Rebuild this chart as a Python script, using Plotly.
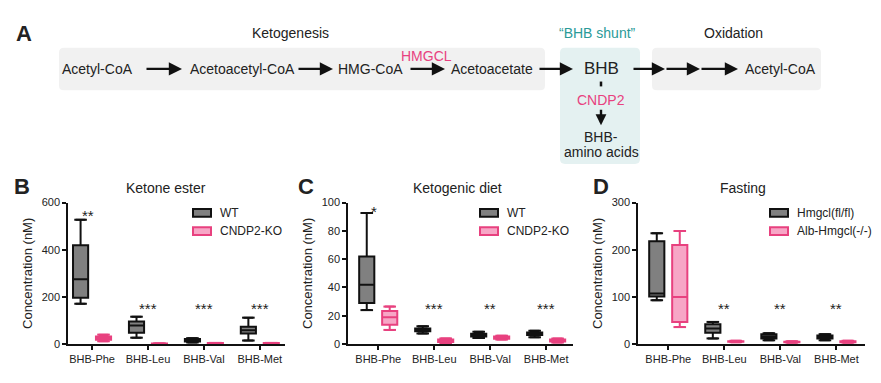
import plotly.graph_objects as go

W, H = 881, 383
FONT = "Liberation Sans, Arial, sans-serif"

cats = ["BHB-Phe", "BHB-Leu", "BHB-Val", "BHB-Met"]

# Panel B - Ketone ester
b_wt_low = [171, 27, 7, 15]
b_wt_q1 = [196, 48, 11, 45]
b_wt_med = [275, 79, 16, 59]
b_wt_q3 = [419, 96, 22, 73]
b_wt_up = [527, 116, 25, 112]
b_ko_low = [12, 0.5, 1, 1]
b_ko_q1 = [18, 1, 2, 2]
b_ko_med = [25, 1.5, 3, 3]
b_ko_q3 = [32, 2, 4, 4]
b_ko_up = [40, 3, 5, 5]
b_stars = ["**", "***", "***", "***"]
b_star_y = [547, 152, 152, 152]

# Panel C - Ketogenic diet
c_wt_low = [24, 7.5, 4.3, 4.8]
c_wt_q1 = [29, 9.1, 5.3, 6.4]
c_wt_med = [42, 10.3, 6.2, 7.3]
c_wt_q3 = [62, 11, 7.3, 8.2]
c_wt_up = [92.7, 12.6, 8.7, 9.4]
c_ko_low = [10, 0.7, 3.2, 1.1]
c_ko_q1 = [13.7, 1.4, 3.7, 1.8]
c_ko_med = [19, 2.3, 4.6, 2.3]
c_ko_q3 = [23.3, 3.2, 5.3, 3.2]
c_ko_up = [26.5, 4, 5.9, 3.9]
c_stars = ["*", "***", "**", "***"]
c_star_y = [94, 25, 25, 25]

# Panel D - Fasting
d_wt_low = [93, 12, 8, 8]
d_wt_q1 = [101, 24, 12, 12]
d_wt_med = [107, 33, 16, 15]
d_wt_q3 = [218, 42, 21, 18]
d_wt_up = [235, 47, 23, 21]
d_ko_low = [36, 4, 3, 3]
d_ko_q1 = [47, 5, 4, 4]
d_ko_med = [100, 5.5, 4.5, 5]
d_ko_q3 = [210, 6, 5, 6]
d_ko_up = [240, 7, 6, 7]
d_stars = ["", "**", "**", "**"]
d_star_y = [0, 76, 76, 76]

WT_FILL, WT_LINE = "#808080", "#111111"
KO_FILL, KO_LINE = "#f7a6c6", "#e8417f"
PINK = "#e8417f"
TEAL = "#2a9a98"


def px(x):
    return x / W


def py(y):
    return 1 - y / H


fig = go.Figure()

panels = [
    dict(ax="", names=("WT", "CNDP2-KO"), leg_x=193,
         wt=(b_wt_low, b_wt_q1, b_wt_med, b_wt_q3, b_wt_up),
         ko=(b_ko_low, b_ko_q1, b_ko_med, b_ko_q3, b_ko_up),
         stars=b_stars, star_y=b_star_y),
    dict(ax="2", names=("WT", "CNDP2-KO"), leg_x=480,
         wt=(c_wt_low, c_wt_q1, c_wt_med, c_wt_q3, c_wt_up),
         ko=(c_ko_low, c_ko_q1, c_ko_med, c_ko_q3, c_ko_up),
         stars=c_stars, star_y=c_star_y),
    dict(ax="3", names=("Hmgcl(fl/fl)", "Alb-Hmgcl(-/-)"), leg_x=770,
         wt=(d_wt_low, d_wt_q1, d_wt_med, d_wt_q3, d_wt_up),
         ko=(d_ko_low, d_ko_q1, d_ko_med, d_ko_q3, d_ko_up),
         stars=d_stars, star_y=d_star_y),
]

for p in panels:
    xa, ya = "x" + p["ax"], "y" + p["ax"]
    for k, (key, name, fill, line, grp) in enumerate(
            [("wt", p["names"][0], WT_FILL, WT_LINE, "wt"),
             ("ko", p["names"][1], KO_FILL, KO_LINE, "ko")]):
        low, q1, med, q3, up = p[key]
        fig.add_trace(go.Box(
            x=cats, q1=q1, median=med, q3=q3, lowerfence=low, upperfence=up,
            name=name, fillcolor=fill, line=dict(color=line, width=2),
            whiskerwidth=0.65, boxpoints=False, offsetgroup=grp,
            xaxis=xa, yaxis=ya, showlegend=False, hoverinfo="skip"))
        # whisker caps
        fig.add_trace(go.Scatter(
            x=cats + cats, y=list(low) + list(up), mode="markers",
            marker=dict(symbol="line-ew", size=9, line=dict(color=line, width=2)),
            offsetgroup=grp, xaxis=xa, yaxis=ya, showlegend=False, hoverinfo="skip"))
        # legend key
        yc = 213.5 + k * 19
        lx = p["leg_x"]
        fig.add_shape(type="rect", xref="paper", yref="paper",
                      x0=px(lx), x1=px(lx + 18), y0=py(yc + 4), y1=py(yc - 4),
                      fillcolor=fill, line=dict(color=line, width=2))
        fig.add_annotation(x=px(lx + 25), y=py(yc), xref="paper", yref="paper",
                           text=name, showarrow=False, xanchor="left", yanchor="middle",
                           font=dict(size=12, color="#222"))
    for c, s, yv in zip(cats, p["stars"], p["star_y"]):
        if s:
            fig.add_annotation(x=c, y=yv, xref=xa, yref=ya, text=s, showarrow=False,
                               font=dict(size=15, color="#222"),
                               xshift=-4 if c == "BHB-Phe" else 0)

# Axes
xdoms = [(68, 285), (348, 573), (638, 865)]
xranges = [[-0.43, 3.45], [-0.54, 3.48], [-0.54, 3.51]]
yranges = [[0, 600], [0, 100], [0, 300]]
dticks = [200, 20, 100]
ydom = [py(349), py(203)]
for i in range(3):
    sfx = "" if i == 0 else str(i + 1)
    fig.update_layout(**{
        "xaxis" + sfx: dict(domain=[px(xdoms[i][0]), px(xdoms[i][1])], anchor="y" + sfx,
                             range=xranges[i], showline=True, linecolor="#111", linewidth=1.5,
                             ticks="outside", ticklen=4, tickwidth=1.5, tickcolor="#111",
                             tickfont=dict(size=11, color="#222"), showgrid=False,
                             zeroline=False, categoryorder="array", categoryarray=cats),
        "yaxis" + sfx: dict(domain=ydom, anchor="x" + sfx, range=yranges[i], dtick=dticks[i],
                             showline=True, linecolor="#111", linewidth=1.5,
                             ticks="outside", ticklen=4, tickwidth=1.5, tickcolor="#111",
                             tickfont=dict(size=11, color="#222"), showgrid=False,
                             zeroline=False,
                             title=dict(text="Concentration (nM)", font=dict(size=13, color="#222"),
                                        standoff=6)),
    })

# Panel titles, letters and pathway diagram text
for txt, x, y, size, bold, color in [
    ("Ketone ester", 166, 188, 14, False, "#222"),
    ("Ketogenic diet", 457, 188, 14, False, "#222"),
    ("Fasting", 743, 188, 14, False, "#222"),
    ("A", 24, 28, 22, True, "#222"),
    ("B", 22, 186, 22, True, "#222"),
    ("C", 306, 186, 22, True, "#222"),
    ("D", 601, 186, 22, True, "#222"),
    ("Ketogenesis", 290, 28, 14, False, "#222"),
    ("\u201cBHB shunt\u201d", 597, 28, 14, False, TEAL),
    ("Oxidation", 733, 28, 14, False, "#222"),
    ("Acetyl-CoA", 97, 65, 14, False, "#222"),
    ("Acetoacetyl-CoA", 242, 65, 14, False, "#222"),
    ("HMG-CoA", 370, 65, 14, False, "#222"),
    ("HMGCL", 426, 52, 14, False, PINK),
    ("Acetoacetate", 492, 65, 14, False, "#222"),
    ("BHB", 601, 65, 17, False, "#222"),
    ("Acetyl-CoA", 780, 65, 14, False, "#222"),
    ("CNDP2", 601, 97, 14, False, PINK),
    ("BHB-", 601, 135, 14, False, "#222"),
    ("amino acids", 601, 151, 14, False, "#222"),
]:
    fig.add_annotation(x=px(x), y=py(y), xref="paper", yref="paper", showarrow=False,
                       text=f"<b>{txt}</b>" if bold else txt,
                       font=dict(size=size, color=color, family=FONT),
                       xanchor="center", yanchor="middle")


def rrect(x0, y0, x1, y1, r=5):
    rx, ry = r / W, r / H
    X0, X1 = px(x0), px(x1)
    Y0, Y1 = py(y1), py(y0)  # bottom, top
    return (f"M{X0+rx},{Y1} L{X1-rx},{Y1} Q{X1},{Y1} {X1},{Y1-ry} "
            f"L{X1},{Y0+ry} Q{X1},{Y0} {X1-rx},{Y0} L{X0+rx},{Y0} "
            f"Q{X0},{Y0} {X0},{Y0+ry} L{X0},{Y1-ry} Q{X0},{Y1} {X0+rx},{Y1} Z")


for (x0, y0, x1, y1, col) in [(59, 43, 545, 87, "#f1f1f1"),
                              (560, 43, 640, 163, "#e4f1f1"),
                              (652, 43, 821, 87, "#f1f1f1")]:
    fig.add_shape(type="path", path=rrect(x0, y0, x1, y1), xref="paper", yref="paper",
                  fillcolor=col, line=dict(width=0), layer="below")

# small dash under BHB
fig.add_shape(type="line", xref="paper", yref="paper", x0=px(601), x1=px(601),
              y0=py(78), y1=py(83), line=dict(color="#111", width=2.5))

# arrows
for (x0, x1) in [(145, 182), (297, 333), (409, 445), (538, 573), (632, 665), (665, 700), (700, 738)]:
    fig.add_annotation(x=px(x1), y=py(65), xref="paper", yref="paper", ax=-(x1 - x0), ay=0,
                       text="", showarrow=True, arrowhead=2, arrowsize=1.2, arrowwidth=2.2,
                       arrowcolor="#111", standoff=0, startstandoff=0)
fig.add_annotation(x=px(601), y=py(123), xref="paper", yref="paper", ax=0, ay=-17,
                   text="", showarrow=True, arrowhead=2, arrowsize=0.9, arrowwidth=2.4,
                   arrowcolor="#111", standoff=0, startstandoff=0)

fig.update_layout(
    width=W, height=H, margin=dict(l=0, r=0, t=0, b=0),
    paper_bgcolor="white", plot_bgcolor="white",
    font=dict(family=FONT, color="#222"),
    showlegend=False,
    boxmode="group", boxgap=0.18, boxgroupgap=0.34,
    scattermode="group", scattergap=0.18,
)

fig.write_html("out.html", config={"displayModeBar": False},
               post_script="document.body.style.margin='0';document.body.style.overflow='hidden';")
